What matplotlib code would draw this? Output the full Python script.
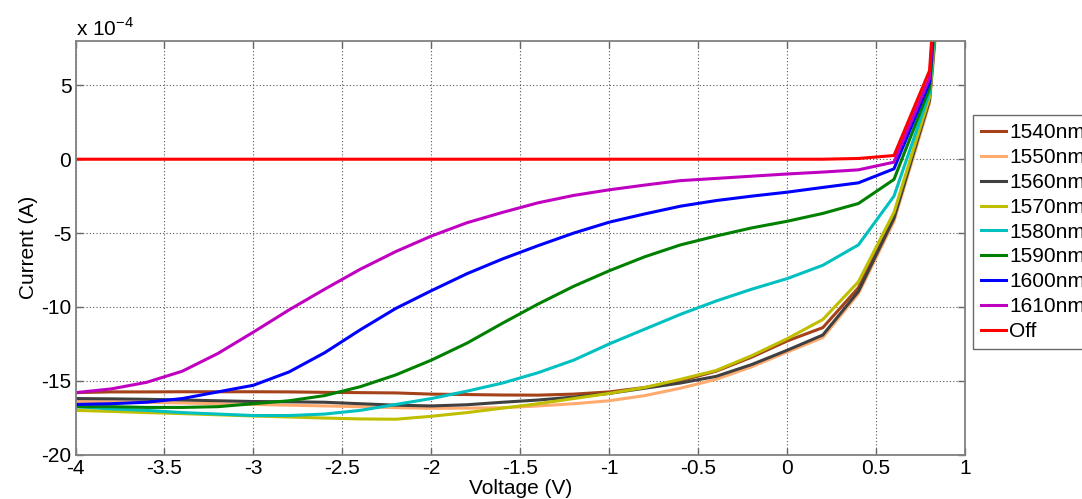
import numpy as np
import matplotlib.pyplot as plt

plt.rcParams['font.family'] = ['Liberation Sans', 'DejaVu Sans']
plt.rcParams['mathtext.fontset'] = 'custom'
plt.rcParams['mathtext.rm'] = 'Liberation Sans'

# bias sweep (V)
voltage = [-4.0, -3.8, -3.6, -3.4, -3.2, -3.0, -2.8, -2.6, -2.4, -2.2, -2.0,
           -1.8, -1.6, -1.4, -1.2, -1.0, -0.8, -0.6, -0.4, -0.2, 0.0,
           0.2, 0.4, 0.6, 0.8, 1.0]

# current in units of 1e-4 A
i_1540 = [-15.8, -15.75, -15.75, -15.74, -15.74, -15.74, -15.75, -15.78, -15.8, -15.82, -15.9,
          -15.93, -15.96, -15.97, -15.9, -15.75, -15.45, -15.0, -14.35, -13.4, -12.3,
          -11.4, -8.7, -3.8, 4.2, 33]
i_1550 = [-16.4, -16.42, -16.45, -16.5, -16.55, -16.6, -16.65, -16.7, -16.75, -16.82, -16.86,
          -16.85, -16.82, -16.7, -16.55, -16.35, -16.0, -15.5, -14.9, -14.05, -13.05,
          -12.07, -9.1, -4.2, 3.8, 31]
i_1560 = [-16.2, -16.22, -16.25, -16.3, -16.35, -16.4, -16.42, -16.45, -16.55, -16.65, -16.7,
          -16.62, -16.45, -16.3, -16.1, -15.85, -15.5, -15.15, -14.7, -13.9, -12.93,
          -11.9, -8.95, -4.0, 4.0, 32]
i_1570 = [-17.0, -17.07, -17.15, -17.22, -17.3, -17.38, -17.45, -17.52, -17.58, -17.6, -17.4,
          -17.15, -16.85, -16.55, -16.2, -15.85, -15.45, -14.9, -14.3, -13.3, -12.15,
          -10.85, -8.3, -3.6, 4.2, 33]
i_1580 = [-16.75, -16.9, -17.0, -17.15, -17.25, -17.35, -17.35, -17.25, -17.0, -16.6, -16.2,
          -15.7, -15.15, -14.45, -13.6, -12.5, -11.5, -10.5, -9.6, -8.8, -8.08,
          -7.18, -5.8, -2.5, 4.5, 34]
i_1590 = [-16.75, -16.75, -16.8, -16.8, -16.75, -16.55, -16.35, -16.0, -15.4, -14.6, -13.6,
          -12.45, -11.1, -9.8, -8.6, -7.55, -6.6, -5.8, -5.2, -4.65, -4.2,
          -3.67, -3.0, -1.37, 4.8, 36]
i_1600 = [-16.6, -16.55, -16.45, -16.2, -15.75, -15.3, -14.4, -13.1, -11.55, -10.1, -8.9,
          -7.75, -6.75, -5.85, -5.0, -4.26, -3.7, -3.18, -2.8, -2.5, -2.23,
          -1.91, -1.6, -0.65, 5.2, 38]
i_1610 = [-15.8, -15.55, -15.1, -14.35, -13.15, -11.7, -10.2, -8.8, -7.45, -6.25, -5.2,
          -4.3, -3.6, -2.95, -2.45, -2.07, -1.75, -1.45, -1.3, -1.15, -1.0,
          -0.87, -0.72, -0.2, 5.5, 40]
i_off = [0.0, 0.0, 0.0, 0.0, 0.0, 0.0, 0.0, 0.0, 0.0, 0.0, 0.0,
         0.0, 0.0, 0.0, 0.0, 0.0, 0.0, 0.0, 0.0, 0.0, 0.0,
         0.0, 0.05, 0.25, 6.0, 42]

labels = ['1540nm', '1550nm', '1560nm', '1570nm', '1580nm',
          '1590nm', '1600nm', '1610nm', 'Off']
series = [i_1540, i_1550, i_1560, i_1570, i_1580, i_1590, i_1600, i_1610, i_off]
colors = ['#A5421A', '#FFAA6E', '#404040', '#BFBF00', '#00C0C0',
          '#008000', '#0000FF', '#C000C0', '#FF0000']

fig = plt.figure(figsize=(10.82, 4.99), dpi=100)
ax = fig.add_axes([0.0698, 0.0888, 0.8222, 0.829])

for vals, lab, col in zip(series, labels, colors):
    ax.plot(voltage, vals, color=col, lw=2.2, label=lab)

ax.set_xlim(-4, 1)
ax.set_ylim(-20, 8)
ax.set_xticks(np.arange(-4, 1.01, 0.5))
ax.set_xticklabels(['-4', '-3.5', '-3', '-2.5', '-2', '-1.5', '-1', '-0.5', '0', '0.5', '1'])
ax.set_yticks([-20, -15, -10, -5, 0, 5])
ax.set_yticklabels(['-20', '-15', '-10', '-5', '0', '5'])
ax.grid(True, linestyle=(0, (1, 2)), color='#555555', lw=0.8)
ax.tick_params(direction='in', top=True, right=True, length=5, width=1,
               color='#666666', labelsize=15, pad=3)
for sp in ax.spines.values():
    sp.set_color('#808080')
    sp.set_linewidth(1.3)

ax.set_xlabel('Voltage (V)', fontsize=15, labelpad=1)
ax.set_ylabel('Current (A)', fontsize=15, labelpad=2)
ax.text(0.0, 1.004, r'x 10$^{-4}$', transform=ax.transAxes, fontsize=15,
        ha='left', va='bottom')

leg = fig.legend(loc='upper left', bbox_to_anchor=(973 / 1082, 1 - 115 / 499),
                 fontsize=15, frameon=True, fancybox=False, edgecolor='#444444',
                 borderpad=0.4, labelspacing=0.28, handlelength=1.2,
                 handletextpad=0.15, borderaxespad=0)
leg.get_frame().set_linewidth(1.0)

fig.savefig('out.png', dpi=100)
